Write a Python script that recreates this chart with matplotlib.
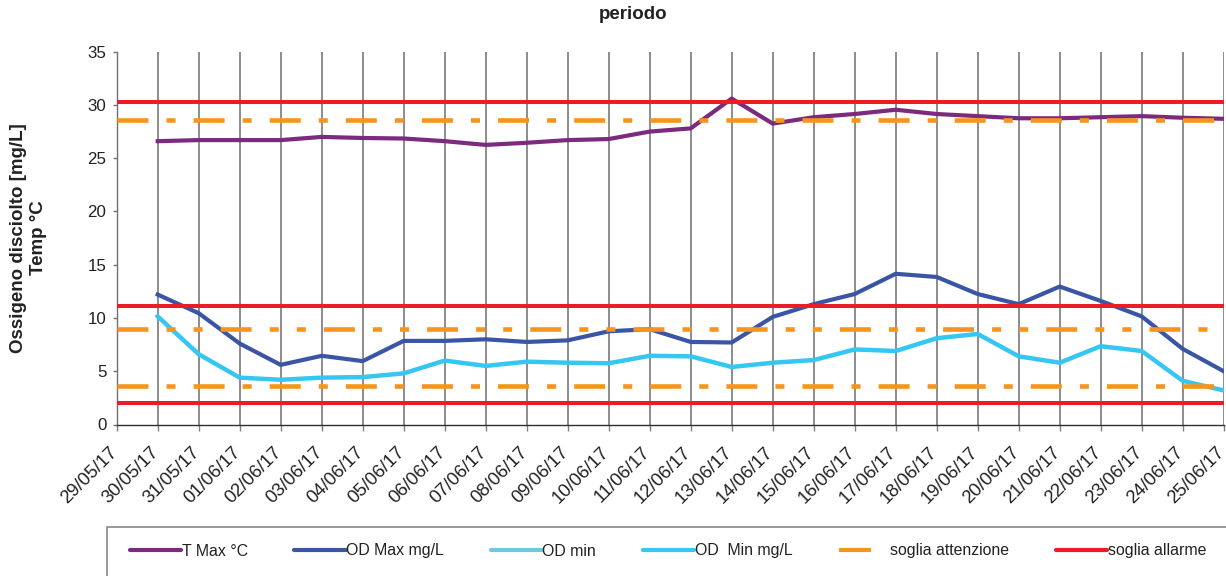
import matplotlib
matplotlib.use("Agg")
import matplotlib.pyplot as plt
from matplotlib.lines import Line2D
from matplotlib.patches import Rectangle
from matplotlib.transforms import ScaledTranslation
import numpy as np

plt.rcParams['font.family'] = ['Liberation Sans', 'DejaVu Sans']
plt.rcParams['lines.scale_dashes'] = False

# ---------------- data ----------------
dates = ['29/05/17', '30/05/17', '31/05/17', '01/06/17', '02/06/17', '03/06/17',
         '04/06/17', '05/06/17', '06/06/17', '07/06/17', '08/06/17', '09/06/17',
         '10/06/17', '11/06/17', '12/06/17', '13/06/17', '14/06/17', '15/06/17',
         '16/06/17', '17/06/17', '18/06/17', '19/06/17', '20/06/17', '21/06/17',
         '22/06/17', '23/06/17', '24/06/17', '25/06/17']

# series start on 30/05/17
t_max = [26.6, 26.7, 26.7, 26.7, 27.0, 26.9, 26.85, 26.6, 26.25, 26.45, 26.7, 26.8,
         27.5, 27.8, 30.6, 28.25, 28.85, 29.15, 29.55, 29.15, 28.95, 28.75, 28.75,
         28.85, 28.95, 28.8, 28.7]
od_max = [12.2, 10.45, 7.6, 5.6, 6.45, 5.95, 7.85, 7.85, 8.0, 7.75, 7.9, 8.75,
          8.95, 7.75, 7.7, 10.1, 11.3, 12.25, 14.15, 13.85, 12.25, 11.3, 12.95,
          11.6, 10.15, 7.1, 5.0]
od_min_mgl = [10.15, 6.6, 4.4, 4.2, 4.4, 4.45, 4.8, 6.0, 5.5, 5.9, 5.8, 5.75,
              6.45, 6.4, 5.4, 5.8, 6.05, 7.05, 6.9, 8.1, 8.5, 6.4, 5.8, 7.35,
              6.9, 4.1, 3.2]
od_min = []  # legend-only series (no visible values)

soglie_attenzione = [28.6, 9.0, 3.6]
soglie_allarme = [30.3, 11.1, 2.0]

yticks = [0, 5, 10, 15, 20, 25, 30, 35]

# ---------------- style ----------------
C_PURPLE = '#7c2a7e'
C_BLUE = '#3b55a5'
C_CYAN = '#35c6f2'
C_LCYAN = '#70c8dc'
C_ORANGE = '#f7941d'
C_RED = '#ec1c24'

W, H = 1226, 576
fig = plt.figure(figsize=(W / 100, H / 100), dpi=100)
ax = fig.add_axes([116.7 / W, 1 - 424.5 / H, (1223.7 - 116.7) / W, (424.5 - 51.7) / H])

x_all = np.arange(len(dates))
x_data = x_all[len(dates) - len(t_max):]

lw = 3.0
ax.plot(x_data, t_max, color=C_PURPLE, lw=lw, solid_joinstyle='round', zorder=3)
ax.plot(x_data, od_max, color=C_BLUE, lw=lw, solid_joinstyle='round', zorder=3)
ax.plot(x_data[:len(od_min)], od_min, color=C_LCYAN, lw=lw, zorder=3)
ax.plot(x_data, od_min_mgl, color=C_CYAN, lw=3.2, solid_joinstyle='round', zorder=3)

dashA = (0, (22.3, 13.0, 6.5, 13.0))
dashB = (0, (22.3, 13.0, 6.5, 13.0, 6.5, 13.0))
for v in soglie_attenzione:
    ls = dashB if v == soglie_attenzione[1] else dashA
    ax.axhline(v, color=C_ORANGE, lw=3.3, ls=ls, dash_capstyle='butt', zorder=4)
for v in soglie_allarme:
    ax.axhline(v, color=C_RED, lw=2.9, zorder=5)

ax.set_xlim(0, len(dates) - 1)
ax.set_ylim(0, 35)
ax.set_yticks(yticks)
ax.set_yticklabels([str(t) for t in yticks])
ax.set_xticks(x_all)
ax.set_xticklabels(dates, rotation=45, ha='right', va='top', rotation_mode='anchor')

ax.grid(axis='x', color='#6e6e6e', lw=1.1, zorder=1)
ax.set_axisbelow(True)
for s in ['top', 'right']:
    ax.spines[s].set_visible(False)
ax.spines['left'].set_color('#707070')
ax.spines['left'].set_linewidth(1.0)
ax.spines['bottom'].set_color('#303030')
ax.spines['bottom'].set_linewidth(1.0)

ax.tick_params(axis='y', length=2.9, width=1.0, color='#707070', pad=4.5,
               labelsize=12.2, labelcolor='#222222')
ax.tick_params(axis='x', length=4.3, width=1.0, color='#808080', pad=9.8,
               labelsize=13.3, labelcolor='#222222')
off = ScaledTranslation(-8.0 / 100, 0, fig.dpi_scale_trans)
for lab in ax.get_xticklabels():
    lab.set_transform(lab.get_transform() + off)

# title and y label
fig.text(633.5 / W, 1 - 14.7 / H, 'periodo', ha='center', va='center',
         fontsize=13.5, fontweight='bold', color='#222222')
fig.text(28.5 / W, 1 - 238 / H, 'Ossigeno disciolto [mg/L]\nTemp °C', rotation=90,
         ha='center', va='center', multialignment='center', linespacing=1.3,
         fontsize=13.5, fontweight='bold', color='#222222')

# legend
handles = [
    Line2D([], [], color=C_PURPLE, lw=3, solid_capstyle='round'),
    Line2D([], [], color=C_BLUE, lw=3, solid_capstyle='round'),
    Line2D([], [], color=C_LCYAN, lw=3, solid_capstyle='round'),
    Line2D([], [], color=C_CYAN, lw=3, solid_capstyle='round'),
    Line2D([], [], color=C_ORANGE, lw=3, ls=(0, (23.0, 30.0)), dash_capstyle='butt'),
    Line2D([], [], color=C_RED, lw=3, solid_capstyle='round'),
]
labels = ['T Max °C', 'OD Max mg/L', 'OD min', 'OD  Min mg/L', 'soglia attenzione',
          'soglia allarme']
leg = fig.legend(handles, labels, ncol=6, loc='center left',
                 bbox_to_anchor=(130 / W, 1 - 551 / H), frameon=False,
                 fontsize=11.4, handlelength=3.23, handletextpad=0.05,
                 columnspacing=2.93, borderpad=0, borderaxespad=0)
for t in leg.get_texts():
    t.set_color('#222222')

fig.patches.append(Rectangle((107 / W, -0.2), 1.2, 0.2 + (1 - 527 / H),
                             transform=fig.transFigure, fill=False,
                             edgecolor='#7f7f7f', lw=1.1))

fig.savefig('out.png', dpi=100)
